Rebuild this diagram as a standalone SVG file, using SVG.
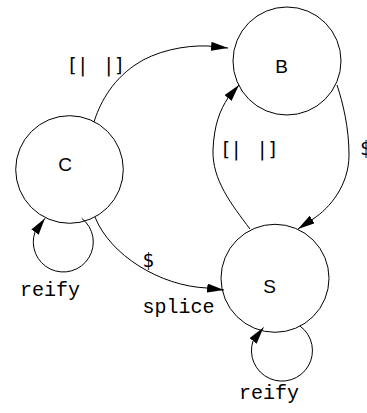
<svg xmlns="http://www.w3.org/2000/svg" width="367" height="413" viewBox="0 0 367 413">
  <style>
    .node circle { fill: none; stroke: #000; stroke-width: 1; }
    .node text { font-family: "Liberation Sans", Arial, sans-serif; font-size: 19px; text-anchor: middle; fill: #000; }
    .edge { fill: none; stroke: #000; stroke-width: 1; marker-end: url(#arrow); }
    .quote { font-family: "DejaVu Sans Mono", monospace; font-size: 19px; letter-spacing: -0.9px; word-spacing: 5px; fill: #000; }
    .op { font-family: "Liberation Mono", "Courier New", monospace; font-size: 20px; fill: #000; }
  </style>
  <defs>
    <marker id="arrow" markerUnits="userSpaceOnUse" markerWidth="18" markerHeight="10" refX="17" refY="4.5" orient="auto">
      <path d="M0,0 L17,4.5 L0,9 z" fill="#000"/>
    </marker>
  </defs>

  <!-- stages -->
  <g id="node-B" class="node">
    <circle cx="287" cy="61" r="54"/>
    <text x="281.5" y="73">B</text>
  </g>
  <g id="node-C" class="node">
    <circle cx="69.5" cy="169.5" r="53.8"/>
    <text x="65" y="170.5">C</text>
  </g>
  <g id="node-S" class="node">
    <circle cx="275" cy="278.3" r="54"/>
    <text x="269.5" y="292.5">S</text>
  </g>

  <!-- transitions -->
  <g id="edges">
    <!-- C to B: quote -->
    <path class="edge" d="M94,122 C99,106 110,82 135,65 C155,51 185,45 208,46 L228,48"/>
    <!-- S to B: quote -->
    <path class="edge" d="M250,229 C232,205 212,180 213,150 C214,125 220,110 228,98 L239,85"/>
    <!-- B to S: splice -->
    <path class="edge" d="M337,85 C343,103 349,128 349,155 C349,185 330,208 313,219 L298,229"/>
    <!-- C to S: splice -->
    <path class="edge" d="M95,217 C110,255 160,286 207,288 L224,290"/>
    <!-- C to C: reify -->
    <path class="edge" d="M81.7,218.3 A30 30 0 1 1 35,232 L45,218.3"/>
    <!-- S to S: reify -->
    <path class="edge" d="M300,326 A30.5 30.5 0 1 1 253,341 L263.5,327.5"/>

    <text class="quote" x="66.5" y="72">[| |]</text>
    <text class="quote" x="220" y="156">[| |]</text>
    <text class="quote" x="360" y="155">$</text>
    <text class="quote" x="142.5" y="267">$</text>
    <text class="op" x="142.5" y="313">splice</text>
    <text class="op" x="20" y="296">reify</text>
    <text class="op" x="239" y="399">reify</text>
  </g>
</svg>
